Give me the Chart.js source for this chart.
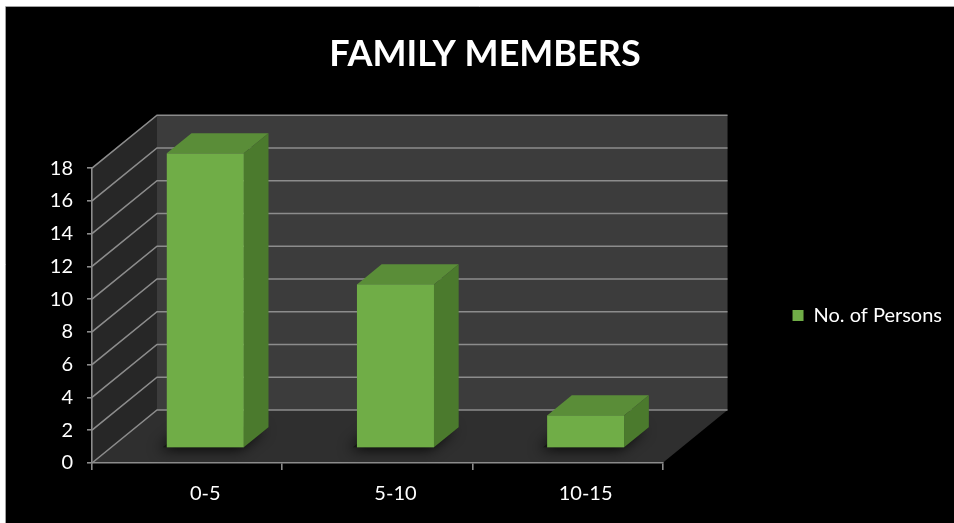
<!DOCTYPE html>
<html>
<head>
<meta charset="utf-8">
<title>Family Members</title>
<script src="https://cdn.jsdelivr.net/npm/chart.js@4"></script>
<style>
    body { margin: 0; background: #fff; }
    canvas { display: block; }
</style>
</head>
<body>
<canvas id="familyChart" width="954" height="523"></canvas>
<script>
const categories = ['0-5', '5-10', '10-15'];
const persons = [18, 10, 2];
const seriesLabel = 'No. of Persons';
const chartTitle = 'FAMILY MEMBERS';
const yMin = 0;
const yMax = 18;
const yStep = 2;

// depth of the box walls, and where the bars sit inside it
const depthX = 65;
const depthY = -53;
const barFront = 0.28;
const barDepth = 0.38;

const gridColor = '#8c8c8c';

Chart.defaults.font.family = 'Lato';
Chart.defaults.color = '#ffffff';

const polygon = (ctx, pts, fill) => {
    ctx.beginPath();
    ctx.moveTo(pts[0][0], pts[0][1]);
    pts.slice(1).forEach(p => ctx.lineTo(p[0], p[1]));
    ctx.closePath();
    ctx.fillStyle = fill;
    ctx.fill();
};

// background, walls, floor and the gridlines running round them
const box3d = {
    id: 'box3d',
    beforeDraw(chart) {
        const { ctx, chartArea: a, scales } = chart;
        ctx.save();
        ctx.fillStyle = '#ffffff';
        ctx.fillRect(0, 0, chart.width, chart.height);
        ctx.fillStyle = '#000000';
        ctx.fillRect(6, 7, chart.width - 6, chart.height - 7);
        ctx.strokeStyle = '#a0a0a0';
        ctx.lineWidth = 1;
        ctx.beginPath();
        ctx.moveTo(5.5, chart.height);
        ctx.lineTo(5.5, 6.5);
        ctx.lineTo(chart.width, 6.5);
        ctx.stroke();

        const l = a.left, r = a.right, t = a.top, b = a.bottom;
        ctx.fillStyle = '#3c3c3c';
        ctx.fillRect(l + depthX, t + depthY, r - l, b - t);
        polygon(ctx, [[l, b], [l, t], [l + depthX, t + depthY], [l + depthX, b + depthY]], '#272727');
        polygon(ctx, [[l, b], [r, b], [r + depthX, b + depthY], [l + depthX, b + depthY]], '#2f2f2f');

        ctx.strokeStyle = gridColor;
        ctx.lineWidth = 1.6;
        scales.y.ticks.forEach(tick => {
            const py = scales.y.getPixelForValue(tick.value);
            ctx.beginPath();
            ctx.moveTo(l, py);
            ctx.lineTo(l + depthX, py + depthY);
            ctx.lineTo(r + depthX, py + depthY);
            ctx.stroke();
        });
        ctx.restore();
    },
    beforeDatasetsDraw(chart) {
        const ctx = chart.ctx;
        const fx = depthX * barFront, fy = depthY * barFront;
        const dx = depthX * barDepth, dy = depthY * barDepth;
        ctx.save();
        chart.getDatasetMeta(0).data.forEach(bar => {
            const L = bar.x - bar.width / 2 + fx;
            const R = bar.x + bar.width / 2 + fx;
            const T = bar.y + fy;
            const B = bar.base + fy;

            // soft shadow on the floor
            ctx.save();
            ctx.shadowColor = 'rgba(0,0,0,0.9)';
            ctx.shadowBlur = 14;
            ctx.shadowOffsetX = -4;
            ctx.shadowOffsetY = 2;
            polygon(ctx, [[L - 4, B], [R, B], [R + dx, B + dy], [L + dx - 4, B + dy]], '#151515');
            ctx.restore();

            polygon(ctx, [[L, T], [R, T], [R + dx, T + dy], [L + dx, T + dy]], '#5a8d38');
            polygon(ctx, [[R, T], [R + dx, T + dy], [R + dx, B + dy], [R, B]], '#4b7a2d');
            ctx.fillStyle = '#70ad47';
            ctx.fillRect(L, T, R - L, B - T);
        });
        ctx.restore();
        return false;
    }
};

new Chart(document.getElementById('familyChart'), {
    type: 'bar',
    data: {
        labels: categories,
        datasets: [{
            label: seriesLabel,
            data: persons,
            backgroundColor: '#70ad47',
            barPercentage: 0.405,
            categoryPercentage: 1
        }]
    },
    options: {
        responsive: false,
        animation: false,
        layout: {
            padding: { left: 18, right: 2, top: 0, bottom: 0 }
        },
        plugins: {
            title: {
                display: true,
                text: chartTitle,
                color: '#ffffff',
                font: { size: 36, weight: 'bold' },
                padding: { top: 33, bottom: 92 }
            },
            legend: {
                position: 'right',
                fullSize: false,
                maxWidth: 260,
                labels: {
                    color: '#ffffff',
                    font: { size: 20 },
                    boxWidth: 11,
                    boxHeight: 11,
                    padding: 10
                }
            },
            tooltip: { enabled: false }
        },
        scales: {
            x: {
                grid: {
                    offset: true,
                    drawOnChartArea: false,
                    drawTicks: true,
                    tickLength: 7,
                    color: gridColor,
                    lineWidth: 1.6
                },
                border: { color: gridColor, width: 1.6 },
                ticks: {
                    font: { size: 20 },
                    padding: 12,
                    labelOffset: depthX * barFront
                },
                afterFit: s => { s.height = 60; }
            },
            y: {
                min: yMin,
                max: yMax,
                ticks: {
                    stepSize: yStep,
                    font: { size: 20 },
                    padding: 14
                },
                grid: {
                    drawOnChartArea: false,
                    drawTicks: true,
                    tickLength: 5,
                    color: gridColor,
                    lineWidth: 1.6
                },
                border: { color: gridColor, width: 1.6 },
                afterFit: s => { s.width = 74; }
            },
            spacer: {
                type: 'linear',
                position: 'right',
                display: true,
                grid: { display: false },
                ticks: { display: false },
                border: { display: false },
                afterFit: s => { s.width = 120; }
            }
        }
    },
    plugins: [box3d]
});
</script>
</body>
</html>
